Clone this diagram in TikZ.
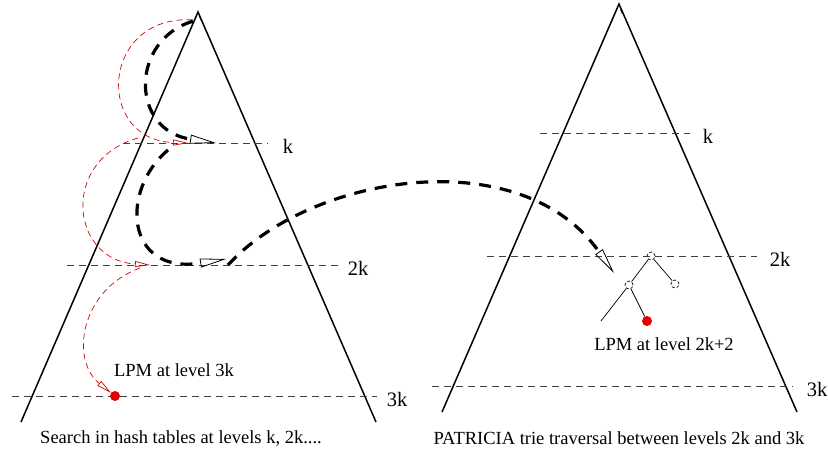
\documentclass[tikz,border=0pt]{standalone}
\usepackage{fontspec}
\setmainfont{Liberation Serif}
\usetikzlibrary{arrows.meta, positioning, calc}

\begin{document}
\begin{tikzpicture}[x=1pt, y=-1pt,
    tri/.style={line width=1.5pt},
    lvl/.style={black!75, line width=0.8pt, dash pattern=on 7pt off 5pt},
    lvllabel/.style={font=\fontsize{20.5}{22}\selectfont},
    note/.style={font=\fontsize{18.5}{20}\selectfont},
    jump/.style={line width=3.2pt, dash pattern=on 12pt off 9pt,
        -{Triangle[open, length=26pt 0 0, width=9pt 0 0, line width=0.8pt]}},
    hop/.style={red!85!black, line width=0.7pt, dash pattern=on 6pt off 4pt,
        -{Triangle[open, length=15pt 0 0, width=6pt 0 0, line width=0.7pt]}},
    hit/.style={circle, fill=red!90!black, minimum size=10pt, inner sep=0pt},
    tnode/.style={circle, draw, line width=0.7pt, dash pattern=on 3pt off 2pt,
        minimum size=8pt, inner sep=0pt},
    rootmark/.style={circle, draw, line width=0.7pt, dash pattern=on 4pt off 20pt,
        minimum size=8pt, inner sep=0pt},
    edge/.style={line width=0.7pt}]

    \useasboundingbox (0,0) rectangle (828,451);

    % Left trie (hash tables)
    \coordinate (ltop) at (198,12);
    \coordinate (lbl) at (21,422);
    \coordinate (lbr) at (376,422);
    \draw[tri] (lbl) -- (ltop) -- (lbr);
    \node[rootmark] (lroot) at (197,20) {};

    \foreach \lab/\yy/\xa/\xb/\lx in {k/143/123/268/288, 2k/265/67/340/358, 3k/396/12/377/397} {
        \draw[lvl] (\xa,\yy) -- (\xb,\yy);
        \node[lvllabel] (l\lab) at (\lx,\yy+3) {\lab};
    }

    % Right trie (PATRICIA)
    \coordinate (rtop) at (619,4);
    \coordinate (rbl) at (442,412);
    \coordinate (rbr) at (797,412);
    \draw[tri] (rbl) -- (rtop) -- (rbr);
    \node[rootmark] (rroot) at (618,13) {};

    \foreach \lab/\yy/\xa/\xb/\lx in {k/133/540/690/708, 2k/256/487/757/780, 3k/386/432/793/817} {
        \draw[lvl] (\xa,\yy) -- (\xb,\yy);
        \node[lvllabel] (r\lab) at (\lx,\yy+3) {\lab};
    }

    % Results
    \node[hit] (lpmL) at (115,396) {};
    \node[note] (lpmLtext) at (174,370) {LPM at level 3k};
    \node[hit] (lpmR) at (647,321) {};
    \node[note] (lpmRtext) at (664,344) {LPM at level 2k+2};

    % Small trie below level 2k
    \node[tnode] (t1) at (651,256) {};
    \node[tnode] (t2) at (629,285) {};
    \node[tnode] (t3) at (675,284) {};
    \coordinate (t4) at (601,321);
    \draw[edge] (t1) -- (t2);
    \draw[edge] (t1) -- (t3);
    \draw[edge] (t2) -- (t4);
    \draw[edge] (t2) -- (lpmR);

    % Hash table probes (red)
    \coordinate (hk) at (188,143);
    \coordinate (hk0) at (138,138);
    \coordinate (h2k) at (150,265);
    \coordinate (h2k0) at (140,268);
    \draw[hop] (lroot) .. controls (100,15) and (95,140) .. (hk);
    \draw[hop] (hk0) .. controls (60,160) and (70,260) .. (h2k);
    \draw[hop] (h2k0) .. controls (80,290) and (70,360) .. (lpmL);

    % Path followed (thick)
    \coordinate (jk) at (216,143);
    \coordinate (jk0) at (168,150);
    \coordinate (j2k) at (226,259);
    \coordinate (j2k0) at (228,265);
    \coordinate (entry) at (614,273);
    \draw[jump] (lroot) .. controls (130,40) and (130,130) .. (jk);
    \draw[jump] (jk0) .. controls (120,190) and (125,275) .. (j2k);
    \draw[jump] (j2k0) .. controls (310,175) and (520,140) .. (entry);

    % Captions
    \node[note] (capL) at (181,438) {Search in hash tables at levels k, 2k....};
    \node[note] (capR) at (619,438) {PATRICIA trie traversal between levels 2k and 3k};
\end{tikzpicture}
\end{document}
